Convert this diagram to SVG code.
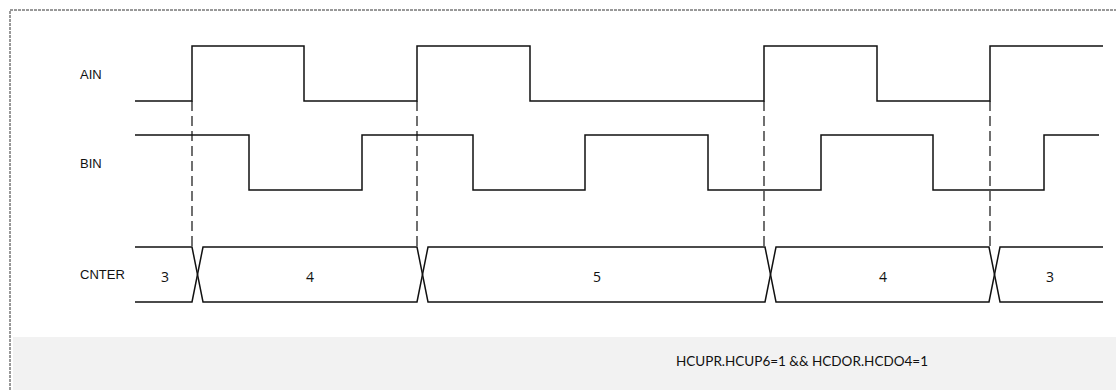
<svg xmlns="http://www.w3.org/2000/svg" width="1116" height="390" viewBox="0 0 1116 390">
<style>
.wave{fill:none;stroke:#111;stroke-width:1.5;stroke-linejoin:miter}
.dash{fill:none;stroke:#111;stroke-width:1.2;stroke-dasharray:10 5}
.lbl{font-family:"Liberation Sans",Arial,sans-serif;font-size:13px;fill:#111}
.num{font-family:"Open Sans","DejaVu Sans",sans-serif;font-size:14px;fill:#111;text-anchor:middle}
.note{font-family:"Lato","Open Sans",sans-serif;font-size:13.5px;fill:#111;text-anchor:middle}
</style>
<rect x="0" y="0" width="1116" height="390" fill="#ffffff"/>
<rect id="frame" x="10" y="10" width="1120" height="400" fill="none" stroke="#333" stroke-width="1" stroke-dasharray="3 1"/>
<rect id="band" x="13" y="337" width="1103" height="53" fill="#f2f2f2"/>
<g id="AIN">
<text class="lbl" x="80" y="79">AIN</text>
<path class="wave" d="M135,101 H192 V46 H304 V101 H417 V46 H530 V101 H764 V46 H877 V101 H990 V46 H1103"/>
</g>
<g id="BIN">
<text class="lbl" x="80" y="168">BIN</text>
<path class="wave" d="M135,135 H249 V190 H362 V135 H473 V190 H585 V135 H708 V190 H821 V135 H933 V190 H1044 V135 H1099"/>
</g>
<g id="CNTER">
<text class="lbl" x="80" y="279">CNTER</text>
<path class="wave" d="M135,247 H192 L203,302 H417 L428,247 H765 L776,302 H989 L1000,247 H1103"/>
<path class="wave" d="M135,302 H192 L203,247 H417 L428,302 H765 L776,247 H989 L1000,302 H1103"/>
<text class="num" x="165" y="282">3</text>
<text class="num" x="310" y="282">4</text>
<text class="num" x="597" y="282">5</text>
<text class="num" x="883" y="282">4</text>
<text class="num" x="1050" y="282">3</text>
</g>
<g id="connectors">
<line class="dash" x1="192" y1="101" x2="192" y2="247"/>
<line class="dash" x1="417" y1="101" x2="417" y2="247"/>
<line class="dash" x1="764" y1="101" x2="764" y2="247"/>
<line class="dash" x1="990" y1="101" x2="990" y2="247"/>
</g>
<g id="condition">
<text class="note" x="802" y="366">HCUPR.HCUP6=1 &amp;&amp; HCDOR.HCDO4=1</text>
</g>
</svg>
